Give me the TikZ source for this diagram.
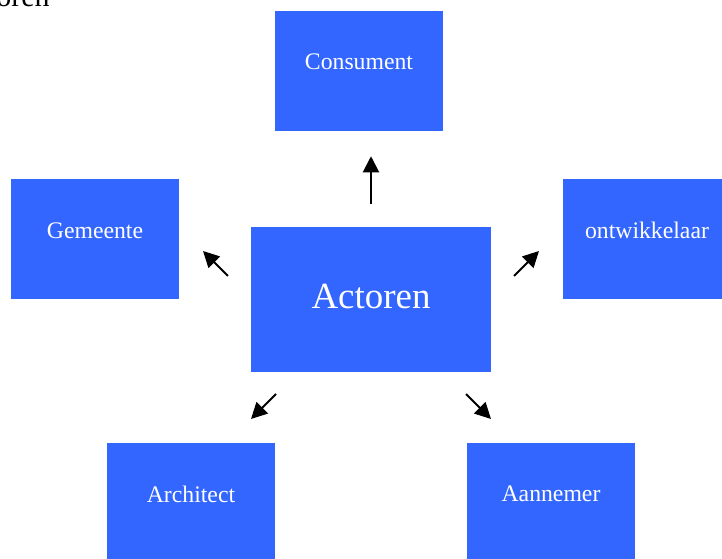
\documentclass[tikz,border=0pt]{standalone}
\usepackage{fontspec}
\setmainfont{Liberation Serif}
\usetikzlibrary{arrows.meta,calc}
\definecolor{boxblue}{HTML}{3366FF}
\tikzset{
  actor/.style={fill=boxblue, inner sep=0pt, minimum width=126pt, minimum height=90pt},
  txt/.style={text=white, inner sep=0pt, font=\fontsize{17.8}{20}\selectfont},
  bigtxt/.style={inner sep=0pt, font=\fontsize{27.7}{32}\selectfont},
  titletxt/.style={inner sep=0pt, font=\fontsize{22.5}{26}\selectfont},
  arr/.style={line width=1.5pt, -{Triangle[length=12pt,width=12pt]}}
}
\begin{document}
\begin{tikzpicture}[x=0.75pt,y=-0.75pt]
\useasboundingbox (0,0) rectangle (722,559);
\clip (0,0) rectangle (722,559);
\node[titletxt, anchor=base east] (title) at (50,7) {Actoren};
\node[actor, label={[txt, yshift=7pt]center:Consument}] (cons) at (359,71) {};
\node[actor, label={[txt, yshift=6.5pt]center:Gemeente}] (gem) at (95,239) {};
\node[actor, label={[txt, yshift=6.5pt]center:ontwikkelaar}] (ontw) at (647,239) {};
\node[actor, minimum width=180pt, minimum height=108.75pt, label={[bigtxt, text=white, yshift=2.6pt]center:Actoren}] (act) at (371,299.5) {};
\node[actor, label={[txt, yshift=6.75pt]center:Architect}] (arch) at (191,503) {};
\node[actor, label={[txt, yshift=6.75pt]center:Aannemer}] (aann) at (551,503) {};
\coordinate (ulA) at (228,276);
\coordinate (ulB) at (203,251);
\coordinate (urA) at (514,276);
\coordinate (urB) at (539,251);
\coordinate (llA) at (276,394);
\coordinate (llB) at (251,419);
\coordinate (lrA) at (466,394);
\coordinate (lrB) at (491,419);
\draw[arr, shorten <=17.25pt, shorten >=18.75pt] (act.north) -- (act.north |- cons.south);
\draw[arr] (ulA) -- (ulB);
\draw[arr] (urA) -- (urB);
\draw[arr] (llA) -- (llB);
\draw[arr] (lrA) -- (lrB);
\end{tikzpicture}
\end{document}
